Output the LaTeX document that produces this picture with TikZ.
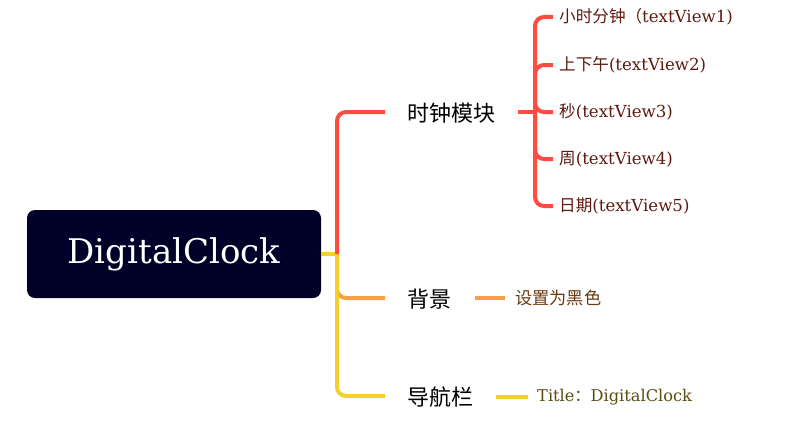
\documentclass[tikz,border=0pt]{standalone}
\usepackage{fontspec}
\setmainfont{DejaVu Serif}
\newfontfamily\cjk{Noto Sans CJK SC}
\definecolor{rootbg}{RGB}{0,0,40}
\definecolor{cred}{RGB}{255,75,64}
\definecolor{corange}{RGB}{247,160,75}
\definecolor{cyellow}{RGB}{245,207,45}
\definecolor{tred}{RGB}{92,26,16}
\definecolor{torange}{RGB}{107,58,16}
\definecolor{tyellow}{RGB}{90,75,16}
\tikzset{
  rootbox/.style={rectangle, rounded corners=8pt, fill=rootbg, text=white, minimum width=294pt, minimum height=88pt, inner sep=0pt, font=\fontsize{34}{40}\selectfont},
  mainbox/.style={anchor=west, inner sep=0pt, font=\cjk\fontsize{22}{26}\selectfont, text=black},
  leafbox/.style={anchor=west, inner sep=0pt, font=\fontsize{16.6}{19}\selectfont},
  conn/.style={line width=4pt, rounded corners=9pt, line cap=butt},
}
\begin{document}
\begin{tikzpicture}[x=1pt,y=-1pt]
\useasboundingbox (0,0) rectangle (797,436);
\node[rootbox] (root) at (174,254) {DigitalClock};
\node[mainbox] (m1) at (407,113) {时钟模块};
\node[mainbox] (m2) at (407,299) {背景};
\node[mainbox] (m3) at (407,397) {导航栏};
\coordinate (j) at (337,254);
\coordinate (t1) at (535,112);
\node[leafbox, text=tred] (c1) at (559,17) {{\cjk 小时分钟（}textView1)};
\node[leafbox, text=tred] (c2) at (559,65) {{\cjk 上下午}(textView2)};
\node[leafbox, text=tred] (c3) at (559,112) {{\cjk 秒}(textView3)};
\node[leafbox, text=tred] (c4) at (559,159) {{\cjk 周}(textView4)};
\node[leafbox, text=tred] (c5) at (559,206) {{\cjk 日期}(textView5)};
\node[leafbox, text=torange, font=\cjk\fontsize{17.2}{20}\selectfont] (o1) at (515,298) {设置为黑色};
\node[leafbox, text=tyellow, font=\fontsize{16.2}{19}\selectfont] (y1) at (537,397) {Title{\cjk ：}DigitalClock};
% main branches
\draw[conn, corange] (j) |- ([xshift=-22pt]m2.west |- 0,298);
\draw[conn, cyellow] (j) |- ([xshift=-22pt]m3.west |- 0,396);
\draw[line width=4pt, cyellow] (root.east) -- ([xshift=2pt]j);
\draw[conn, cred] (j) |- ([xshift=-22pt]m1.west |- 0,112);
% sub branches
\draw[conn, cred, shorten <=23pt] (m1.east |- t1) -- (t1);
\foreach \c in {c1,c2,c3,c4,c5}{
  \draw[conn, cred] (t1) |- ([xshift=-6pt]\c.west);
}
\draw[conn, corange] ([xshift=-40pt]o1.west) -- ([xshift=-10pt]o1.west);
\draw[conn, cyellow] ([xshift=-41pt]y1.west) -- ([xshift=-9pt]y1.west);
\end{tikzpicture}
\end{document}
